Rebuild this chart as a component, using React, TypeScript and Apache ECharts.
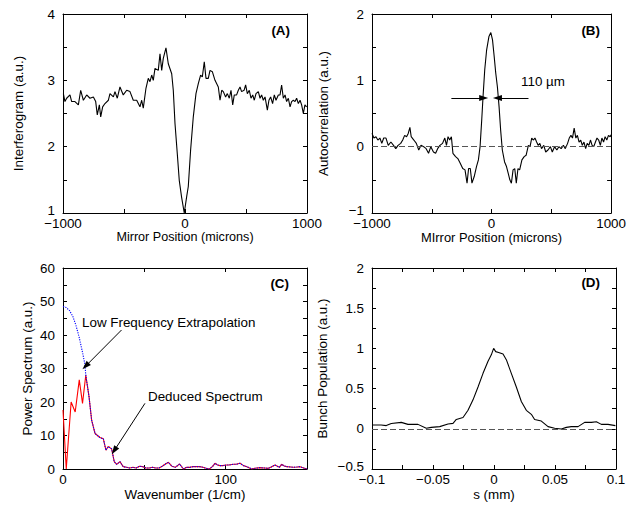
import React, { useEffect, useRef } from 'react';
import * as echarts from 'echarts';

const FONT = '"Liberation Sans", Arial, Helvetica, sans-serif';
const FS = 13.4;

// Panel A: interferogram
const xA = [-997, -984, -970, -943, -929, -902, -874, -855, -833, -806, -779, -751, -732, -719, -702, -691, -675, -656, -628, -615, -587, -574, -555, -533, -506, -478, -451, -424, -396, -369, -355, -342, -320, -301, -287, -273, -260, -246, -219, -205, -191, -178, -156, -137, -109, -96, -82, -63, -47, -28, -6, 14, 27, 46, 68, 90, 109, 128, 142, 158, 172, 191, 205, 224, 246, 273, 287, 301, 314, 333, 347, 363, 377, 391, 404, 423, 437, 451, 464, 484, 497, 511, 527, 541, 555, 568, 582, 601, 615, 628, 642, 656, 675, 688, 702, 718, 732, 746, 765, 779, 792, 806, 820, 833, 847, 861, 874, 888, 902, 915, 929, 943, 956, 970, 983, 997];
const yA = [2.80, 2.68, 2.73, 2.78, 2.68, 2.68, 2.63, 2.85, 2.70, 2.78, 2.73, 2.75, 2.68, 2.48, 2.63, 2.45, 2.60, 2.65, 2.70, 2.80, 2.75, 2.83, 2.73, 2.90, 2.78, 2.85, 2.83, 2.70, 2.70, 2.60, 2.70, 2.58, 2.88, 3.03, 2.98, 3.08, 3.00, 3.18, 3.15, 3.40, 3.15, 3.33, 3.49, 3.25, 3.10, 2.85, 2.35, 1.89, 1.49, 1.24, 1.00, 1.25, 1.40, 1.95, 2.45, 2.80, 2.95, 3.08, 3.05, 3.28, 3.03, 3.03, 3.15, 3.13, 3.00, 2.90, 2.70, 2.85, 2.83, 2.75, 2.80, 2.73, 2.85, 2.63, 2.78, 2.78, 2.85, 2.90, 2.83, 2.85, 2.93, 2.80, 2.85, 2.73, 2.78, 2.70, 2.80, 2.83, 2.73, 2.78, 2.70, 2.75, 2.55, 2.70, 2.75, 2.65, 2.78, 2.70, 2.78, 2.78, 2.93, 2.73, 2.78, 2.68, 2.73, 2.60, 2.68, 2.70, 2.68, 2.73, 2.65, 2.70, 2.63, 2.50, 2.63, 2.60];

// Panel B: autocorrelation
const xB = [-1000, -984, -967, -951, -934, -918, -902, -883, -864, -842, -820, -801, -782, -760, -743, -727, -711, -697, -683, -672, -650, -629, -609, -590, -568, -547, -527, -508, -486, -468, -451, -432, -410, -391, -377, -364, -350, -336, -323, -301, -282, -262, -241, -222, -205, -192, -178, -164, -145, -126, -110, -96, -82, -71, -57, -41, -22, -6, 8, 22, 35, 49, 63, 76, 90, 109, 125, 139, 153, 166, 180, 194, 207, 221, 235, 254, 273, 289, 308, 322, 336, 349, 363, 377, 390, 404, 418, 437, 453, 472, 492, 508, 527, 546, 563, 582, 601, 617, 636, 650, 664, 677, 691, 705, 718, 732, 746, 759, 773, 787, 800, 814, 828, 841, 855, 869, 882, 896, 910, 923, 937, 950, 964, 978, 992, 1000];
const yB = [0.20, 0.13, 0.15, 0.10, 0.13, 0.05, 0.13, 0.13, 0.02, 0.07, 0.02, -0.03, 0.02, 0.05, 0.10, 0.17, 0.15, 0.20, 0.29, 0.15, 0.10, 0.05, -0.05, 0.02, 0.00, -0.03, -0.10, 0.00, -0.08, -0.10, -0.03, 0.02, 0.05, 0.13, 0.02, 0.15, 0.10, 0.15, -0.10, -0.15, -0.18, -0.25, -0.33, -0.35, -0.55, -0.33, -0.33, -0.55, -0.45, -0.30, -0.20, 0.00, 0.41, 0.76, 1.16, 1.46, 1.66, 1.72, 1.61, 1.36, 1.11, 0.90, 0.60, 0.25, -0.05, -0.23, -0.30, -0.40, -0.50, -0.55, -0.35, -0.33, -0.55, -0.33, -0.35, -0.20, -0.15, -0.13, 0.02, 0.00, 0.13, 0.10, 0.13, 0.07, 0.02, 0.05, -0.03, 0.02, -0.08, -0.05, 0.00, -0.08, 0.00, -0.05, 0.00, -0.03, 0.02, -0.03, 0.05, 0.13, 0.17, 0.13, 0.28, 0.13, 0.17, 0.07, 0.10, 0.02, 0.07, -0.03, 0.05, 0.02, 0.10, 0.02, 0.00, 0.07, 0.13, 0.10, 0.02, 0.13, 0.07, 0.15, 0.10, 0.17, 0.15, 0.18];

// Panel C: power spectrum (deduced, red) and low-frequency extrapolation (blue)
const xC = [0, 2, 5, 7.5, 10, 12, 14, 16, 17.6, 19.7, 22.7, 24.8, 26.4, 27.8, 29.9, 31.5, 33, 35, 37, 39, 41, 43, 45, 47, 49, 51, 53, 55, 57, 59, 61, 63, 64.8, 67, 69, 71.7, 74, 76, 78, 80, 82, 84, 86, 88, 90, 92, 93.4, 95, 96.5, 98, 100.6, 102, 104.7, 106.5, 108.8, 111, 113, 116, 118, 121, 124, 126.2, 128, 130.3, 133, 134.4, 136, 137.5, 140, 141.6, 144, 145.7, 148, 150];
const yC = [17.6, 0, 20, 17, 26.6, 19.6, 28, 21.6, 14.6, 10.6, 9.4, 9.0, 5.6, 6.7, 6.0, 2.2, 1.4, 2.2, 0.7, 0.5, 0.3, 0.5, 0.3, 0.8, 0.7, 0.3, 0.3, 0.5, 0.3, 0.3, 0.8, 1.5, 2.0, 0.8, 0.5, 1.5, 0, 0.5, 0.5, 0.7, 0.7, 0.7, 0.5, 0.2, 0, 0.8, 1.7, 1.2, 1.0, 1.0, 1.2, 1.2, 1.4, 1.4, 1.7, 1.0, 0.7, 0, 0.2, 0.4, 0.3, 0.2, 0.6, 1.2, 0.5, 1.4, 0.9, 0.7, 0.6, 0.5, 0.6, 0.7, 0.3, 0];
const xExt = [0, 2, 4, 6, 8, 10, 12, 13.5];
const yExt = [48.5, 48.2, 47.3, 45.6, 42.8, 39.2, 34.8, 31.2];

// Panel D: bunch population
const xD = [-0.1, -0.0925, -0.0883, -0.0842, -0.076, -0.0705, -0.0623, -0.0555, -0.0514, -0.0445, -0.0377, -0.0336, -0.0309, -0.0254, -0.0213, -0.0172, -0.0131, -0.009, -0.0049, -0.0022, -0.0003, 0.0014, 0.0038, 0.0074, 0.0101, 0.0142, 0.0183, 0.0224, 0.0265, 0.0306, 0.0333, 0.0388, 0.0443, 0.0497, 0.0552, 0.0593, 0.0634, 0.0689, 0.0743, 0.0798, 0.0839, 0.088, 0.0934, 0.0995];
const yD = [0.047, 0.047, 0.04, 0.065, 0.08, 0.055, 0.055, 0.006, 0.018, 0.027, 0.06, 0.067, 0.116, 0.14, 0.23, 0.36, 0.52, 0.69, 0.84, 0.92, 1.0, 0.96, 0.95, 0.93, 0.86, 0.69, 0.52, 0.34, 0.23, 0.18, 0.116, 0.096, 0.027, 0.006, -0.002, 0.018, 0.027, 0.027, 0.08, 0.08, 0.088, 0.055, 0.055, 0.04];

const pairs = (xs: number[], ys: number[]) => xs.map((x, i) => [x, ys[i]]);
const minus = (v: number) => String(v).replace('-', '\u2212');
// lowest y label is lifted slightly so it does not collide with the first x label
const minusLift = (min: number) => (v: number) => (v === min ? `{lo|${minus(v)}}` : minus(v));

const textStyle = { color: '#000', fontSize: FS, fontFamily: FONT };

function xPair(grid: number, min: number, max: number, interval: number, split: number, name: string, nameGap: number, fmt: (v: number) => string, nameSize = FS) {
  const common = {
    type: 'value', gridIndex: grid, min, max, interval,
    axisLine: { show: true, onZero: false, lineStyle: { color: '#000', width: 1 } },
    axisTick: { show: true, inside: true, length: 4, lineStyle: { color: '#000', width: 1 } },
    minorTick: { show: split > 1, splitNumber: split, length: 4, lineStyle: { color: '#000', width: 1 } },
    splitLine: { show: false }, minorSplitLine: { show: false },
  };
  return [
    { ...common, position: 'bottom', name, nameLocation: 'middle', nameGap, nameTextStyle: { ...textStyle, fontSize: nameSize },
      axisLabel: { show: true, margin: 4, ...textStyle, formatter: fmt } },
    { ...common, position: 'top', axisLabel: { show: false } },
  ];
}
function yPair(grid: number, min: number, max: number, interval: number, split: number, name: string, nameGap: number, fmt: (v: number) => string) {
  const common = {
    type: 'value', gridIndex: grid, min, max, interval,
    axisLine: { show: true, onZero: false, lineStyle: { color: '#000', width: 1 } },
    axisTick: { show: true, inside: true, length: 4, lineStyle: { color: '#000', width: 1 } },
    minorTick: { show: split > 1, splitNumber: split, length: 4, lineStyle: { color: '#000', width: 1 } },
    splitLine: { show: false }, minorSplitLine: { show: false },
  };
  return [
    { ...common, position: 'left', name, nameLocation: 'middle', nameGap, nameTextStyle: textStyle,
      axisLabel: { show: true, margin: 8, ...textStyle, formatter: fmt,
        rich: { lo: { ...textStyle, padding: [0, 0, 6, 0] } } } },
    { ...common, position: 'right', axisLabel: { show: false } },
  ];
}

const lineSeries = (ax: number, data: number[][], color = '#000', type: any = 'solid', z = 2) => ({
  type: 'line', xAxisIndex: ax * 2, yAxisIndex: ax * 2, data, showSymbol: false, symbol: 'none',
  lineStyle: { color, width: 1.1, type }, z, silent: true,
});

const zeroLine = (ax: number) => ({
  type: 'line', xAxisIndex: ax * 2, yAxisIndex: ax * 2, data: [], silent: true,
  markLine: { silent: true, symbol: 'none', label: { show: false },
    lineStyle: { type: [6, 3], color: '#555', width: 1 }, data: [{ yAxis: 0 }] },
});

const arrows = (ax: number, segs: number[][][]) => ({
  type: 'line', xAxisIndex: ax * 2, yAxisIndex: ax * 2, data: [], silent: true,
  markLine: { silent: true, symbol: ['none', 'triangle'], symbolSize: [6, 9], label: { show: false },
    lineStyle: { type: 'solid', color: '#000', width: 1 },
    data: segs.map((s) => [{ coord: s[0] }, { coord: s[1] }]) },
});

const label = (text: string, x: number, y: number, bold = false, align = 'left') => ({
  type: 'text', x, y, silent: true,
  style: { text, fill: '#000', fontSize: FS, fontFamily: FONT, fontWeight: bold ? 'bold' : 'normal', align, verticalAlign: 'middle' },
});

export default function App() {
  const ref = useRef<HTMLDivElement>(null);
  useEffect(() => {
    const chart = echarts.init(ref.current!, null, { renderer: 'svg' });
    const blueFull = [...pairs(xExt, yExt), ...pairs(xC, yC).filter((p) => p[0] >= 14)];
    const option: any = {
      animation: false,
      backgroundColor: '#fff',
      grid: [
        { left: 63, top: 14, width: 244, height: 199 },
        { left: 372, top: 14, width: 244, height: 199 },
        { left: 63, top: 268, width: 244, height: 201 },
        { left: 372, top: 268, width: 244, height: 201 },
      ],
      xAxis: [
        ...xPair(0, -1000, 1000, 1000, 2, 'Mirror Position (microns)', 15, minus, 12.6),
        ...xPair(1, -1000, 1000, 1000, 2, 'MIrror Position (microns)', 15, minus, 12.9),
        ...xPair(2, 0, 150, 50, 1, 'Wavenumber (1/cm)', 19, (v: number) => (v === 0 || v === 100 ? String(v) : '')),
        ...xPair(3, -0.1, 0.1, 0.05, 2, 's (mm)', 19, minus),
      ],
      yAxis: [
        ...yPair(0, 1, 4, 1, 2, 'Interferogram (a.u.)', 38, minusLift(1)),
        ...yPair(1, -1, 2, 1, 2, 'Autocorrelation (a.u.)', 42, minusLift(-1)),
        ...yPair(2, 0, 60, 10, 2, 'Power Spectrum (a.u.)', 29, minus),
        ...yPair(3, -0.5, 2, 0.5, 2, 'Bunch Population (a.u.)', 43, minusLift(-0.5)),
      ],
      series: [
        lineSeries(0, pairs(xA, yA)),
        zeroLine(1),
        lineSeries(1, pairs(xB, yB)),
        arrows(1, [[[-336, 0.733], [-66, 0.733]], [[309, 0.733], [49, 0.733]]]),
        lineSeries(2, pairs(xC, yC), '#ff0000', 'solid', 2),
        lineSeries(2, blueFull, '#0000ff', [1.2, 1.2], 3),
        arrows(2, [[[36, 41.5], [13.9, 30.7]], [[50.4, 19.6], [31.5, 5.5]]]),
        zeroLine(3),
        lineSeries(3, pairs(xD, yD)),
      ],
      graphic: [
        label('(A)', 290, 30, true, 'right'),
        label('(B)', 600, 30, true, 'right'),
        label('(C)', 289, 283, true, 'right'),
        label('(D)', 600, 282, true, 'right'),
        label('110 \u00b5m', 521, 81),
        label('Low Frequency Extrapolation', 82, 322),
        label('Deduced Spectrum', 148, 396),
      ],
    };
    chart.setOption(option);
    return () => chart.dispose();
  }, []);
  return <div ref={ref} style={{ position: 'absolute', left: 0, top: 0, width: 629, height: 508 }} />;
}
